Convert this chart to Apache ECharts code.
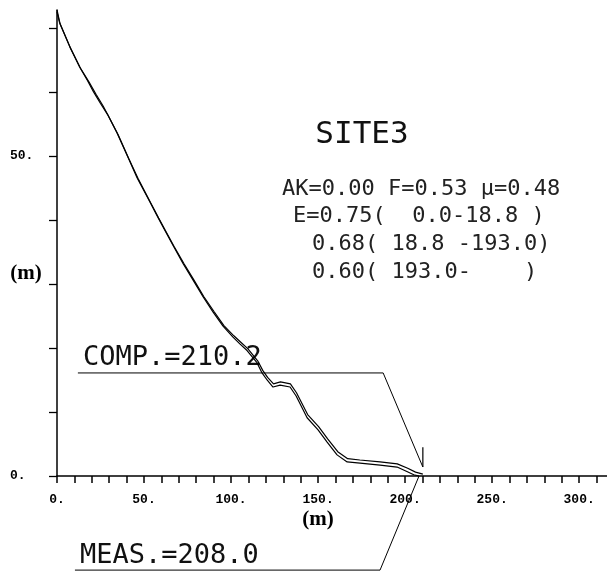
<!DOCTYPE html>
<html><head><meta charset="utf-8">
<script src="https://cdn.jsdelivr.net/npm/echarts@6/dist/echarts.min.js"></script>
<style>html,body{margin:0;padding:0;background:#fff}#c{width:607px;height:574px}</style>
</head><body><div id="c"></div>
<script>
// ---- data ----
const xTicks = [0,10,20,30,40,50,60,70,80,90,100,110,120,130,140,150,160,170,180,190,200,210,220,230,240,250,260,270,280,290,300,310];
const xLabels = [0,50,100,150,200,250,300];
const yTicks = [0,10,20,30,40,50,60,70];
const yLabels = [0,50];
const measured = [[0,72.5],[1.5,70.8],[7.5,67.0],[13,63.9],[17.5,61.8],[21,60.0],[25,58.2],[29,56.5],[34.5,53.6],[40.8,49.8],[46,46.6],[53.4,42.8],[58,40.4],[62.1,38.3],[66.7,36.0],[72.4,33.2],[78.2,30.6],[83.9,28.0],[89.7,25.6],[95.4,23.4],[101.1,21.7],[105.2,20.6],[109.2,19.6],[114.9,17.7],[117.8,16.1],[120.7,15.0],[124.1,13.9],[128.2,14.2],[133.9,13.9],[137.4,12.5],[143.7,9.1],[150,7.2],[155.2,5.3],[160.9,3.3],[166.7,2.2],[174.1,2.0],[185.6,1.7],[195.4,1.4],[201,0.7],[205,0.2],[208,0]];
const computed = [[0,72.8],[1.8,70.6],[7.8,66.8],[13.5,63.7],[18.5,61.5],[22.5,59.6],[26.5,57.8],[30,56.0],[35,53.4],[41.2,49.6],[46.5,46.5],[53.8,42.7],[58.4,40.3],[62.6,38.2],[67.2,35.9],[72.9,33.2],[78.7,30.6],[84.4,28.0],[90.2,25.7],[95.9,23.5],[101.6,21.9],[105.6,20.9],[109.6,19.9],[115.3,18.0],[118.2,16.5],[121.0,15.4],[124.4,14.4],[128.4,14.7],[134.1,14.4],[137.6,13.0],[144,9.6],[150.3,7.7],[155.5,5.8],[161.3,3.8],[167,2.7],[174,2.5],[185.6,2.2],[195.5,1.9],[201.5,1.2],[206,0.6],[210.2,0.3]];
const compValue = 210.2;
const measValue = 208.0;
const siteTitle = 'SITE3';
const paramLines = ['AK=0.00 F=0.53 \u03bc=0.48', 'E=0.75(  0.0-18.8 )', '0.68( 18.8 -193.0)', '0.60( 193.0-    )'];
const compText = 'COMP.=' + compValue.toFixed(1);
const measText = 'MEAS.=' + measValue.toFixed(1);

// ---- layout (data-space anchors for leader lines) ----
const compLeaderY = 16.1, compLeaderX0 = 12, compElbowX = 187.4, compTipY = 1.4, compStubTop = 4.5;
const measLeaderY = -14.7, measLeaderX0 = 10.3, measElbowX = 185.6, measTipY = 0;

const compLeader = [[compLeaderX0, compLeaderY],[compElbowX, compLeaderY],[compValue, compTipY]];
const compStub = [[compValue, compTipY],[compValue, compStubTop]];
const measLeader = [[measLeaderX0, measLeaderY],[measElbowX, measLeaderY],[measValue, measTipY]];

const chart = echarts.init(document.getElementById('c'), null, {renderer:'canvas'});
const lineSeries = (data, w) => ({type:'line', data, showSymbol:false, symbol:'none', clip:false,
  lineStyle:{color:'#000', width:w}, silent:true, animation:false});
const mono = "'DejaVu Sans Mono', monospace";
chart.setOption({
  backgroundColor:'#fff',
  animation:false,
  grid:{left:57, right:0, top:10, bottom:98, containLabel:false},
  xAxis:{type:'value', min:0, max:316,
    axisLine:{lineStyle:{color:'#000', width:1.5}, onZero:true},
    axisTick:{show:true, length:7, lineStyle:{color:'#000', width:1.5}, customValues:xTicks},
    axisLabel:{customValues:xLabels, formatter:v=>v+'.', color:'#000', fontFamily:"'Liberation Mono', monospace", fontWeight:'bold', fontSize:13, margin:17},
    splitLine:{show:false}},
  yAxis:{type:'value', min:0, max:72.8,
    axisLine:{show:true, lineStyle:{color:'#000', width:1.5}},
    axisTick:{show:true, length:8, lineStyle:{color:'#000', width:1.3}, customValues:yTicks},
    axisLabel:{customValues:yLabels, formatter:v=>v+'.', color:'#000', fontFamily:"'Liberation Mono', monospace", fontWeight:'bold', fontSize:13, align:'left', margin:47},
    splitLine:{show:false}},
  series:[
    lineSeries(measured, 1.2),
    lineSeries(computed, 1.2),
    lineSeries(compLeader, 1),
    lineSeries(compStub, 1.2),
    lineSeries(measLeader, 1)
  ],
  graphic:[
    {type:'text', style:{text:siteTitle, x:362, y:135, font:"31px "+mono, fill:'#111', align:'center', verticalAlign:'middle'}},
    {type:'text', style:{text:paramLines[0], x:282, y:189, font:"22px "+mono, fill:'#222', align:'left', verticalAlign:'middle'}},
    {type:'text', style:{text:paramLines[1], x:293, y:216, font:"22px "+mono, fill:'#222', align:'left', verticalAlign:'middle'}},
    {type:'text', style:{text:paramLines[2], x:312, y:244, font:"22px "+mono, fill:'#222', align:'left', verticalAlign:'middle'}},
    {type:'text', style:{text:paramLines[3], x:312, y:272, font:"22px "+mono, fill:'#222', align:'left', verticalAlign:'middle'}},
    {type:'text', style:{text:compText, x:83, y:358, font:"27px "+mono, fill:'#111', align:'left', verticalAlign:'middle'}},
    {type:'text', style:{text:measText, x:80, y:556, font:"27px "+mono, fill:'#111', align:'left', verticalAlign:'middle'}},
    {type:'text', style:{text:'(m)', x:318, y:520, font:"bold 21px 'Liberation Serif', serif", fill:'#000', align:'center', verticalAlign:'middle'}},
    {type:'text', style:{text:'(m)', x:26, y:274, font:"bold 21px 'Liberation Serif', serif", fill:'#000', align:'center', verticalAlign:'middle'}}
  ]
});
</script></body></html>
